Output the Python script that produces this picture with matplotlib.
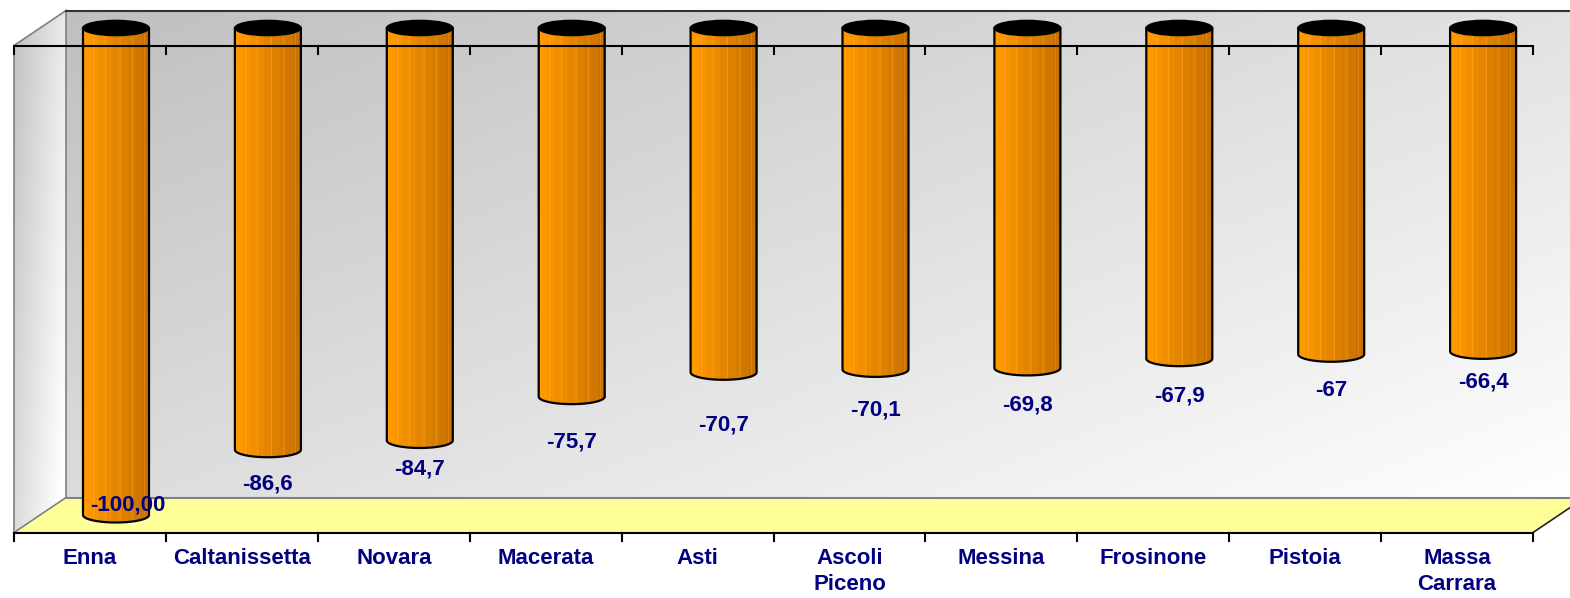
import matplotlib
matplotlib.use("Agg")
import matplotlib.pyplot as plt
from matplotlib.patches import Polygon, Ellipse
import numpy as np

# data
provinces = ["Enna", "Caltanissetta", "Novara", "Macerata", "Asti",
             "Ascoli\nPiceno", "Messina", "Frosinone", "Pistoia", "Massa\nCarrara"]
values = [-100.00, -86.6, -84.7, -75.7, -70.7, -70.1, -69.8, -67.9, -67.0, -66.4]
value_text = ["-100,00", "-86,6", "-84,7", "-75,7", "-70,7",
              "-70,1", "-69,8", "-67,9", "-67", "-66,4"]

# label nudges in pixels (x right, y down), as placed in the original
label_dx = [12, 0, 0, 0, 0, 0, 0, 0, 0, 0]
label_dy = [-44, 0, -5, 11, 19, 7, 3, 3, 2, -3]

# scale: pixels per category and per value unit
W, H = 1570, 598
PX_CAT = 151.9
PX_UNIT = 4.87
X0_PX = 116.0     # pixel x of first category (mid depth)
V0_PX = 28.0      # pixel y (from top) of value 0 (mid depth)
DX = 26.0 / PX_CAT          # half depth, in categories
DV = 17.5 / PX_UNIT         # half depth, in value units
BAR_R = 33.0 / PX_CAT
ELL = 7.5 / PX_UNIT
FLOOR = -100.0

navy = "#000080"
plt.rcParams['font.family'] = ['Liberation Sans', 'DejaVu Sans']

fig = plt.figure(figsize=(W / 100, H / 100), dpi=100)
ax = fig.add_axes([0, 0, 1, 1])
ax.set_xlim((0 - X0_PX) / PX_CAT, (W - X0_PX) / PX_CAT)
ax.set_ylim((V0_PX - H) / PX_UNIT, V0_PX / PX_UNIT)
ax.axis("off")

n = len(values)
xl, xr = -0.5, n - 0.5

# back wall with diagonal gradient
bw = [xl + DX, xr + DX, FLOOR + DV, DV]
u, w = np.meshgrid(np.linspace(0, 1, 300), np.linspace(0, 1, 120))
g = np.clip(0.75 + 0.25 * (0.55 * u + 0.45 * w), 0, 1)
ax.imshow(np.dstack([g, g, g]), extent=bw, origin="upper", aspect="auto", zorder=0)

# side wall
side = Polygon([(xl - DX, -DV), (xl + DX, DV), (xl + DX, FLOOR + DV), (xl - DX, FLOOR - DV)],
               closed=True, facecolor="none", edgecolor="none", transform=ax.transData)
ax.add_patch(side)
u2, w2 = np.meshgrid(np.linspace(0, 1, 40), np.linspace(0, 1, 120))
g2 = np.clip(0.76 + 0.16 * u2 + 0.10 * w2, 0, 1)
im2 = ax.imshow(np.dstack([g2, g2, g2]), extent=[xl - DX, xl + DX, FLOOR - DV, DV],
                origin="upper", aspect="auto", zorder=0)
im2.set_clip_path(side)

# floor
floor = Polygon([(xl - DX, FLOOR - DV), (xr - DX, FLOOR - DV), (xr + DX, FLOOR + DV), (xl + DX, FLOOR + DV)],
                closed=True, facecolor="#ffff99", edgecolor="none", zorder=1)
ax.add_patch(floor)

# frame lines
gray = "#808080"
ax.plot([xl - DX, xl + DX], [-DV, DV], color=gray, lw=1.2, zorder=2)
ax.plot([xl + DX, xl + DX], [DV, FLOOR + DV], color=gray, lw=1.2, zorder=2)
ax.plot([xl - DX, xl - DX], [-DV, FLOOR - DV], color=gray, lw=1.2, zorder=2)
ax.plot([xl - DX, xl + DX], [FLOOR - DV, FLOOR + DV], color=gray, lw=1.2, zorder=2)
ax.plot([xl + DX, xr + DX], [FLOOR + DV, FLOOR + DV], color=gray, lw=1.5, zorder=2)
ax.plot([xl + DX, xr + DX], [DV, DV], color="#333333", lw=1.5, zorder=2)
ax.plot([xr - DX, xr + DX], [FLOOR - DV, FLOOR + DV], color="#222222", lw=1.2, zorder=2)

# front axis lines with ticks
tick = 8.0 / PX_UNIT
for base, z in [(-DV, 6), (FLOOR - DV, 2)]:
    ax.plot([xl - DX, xr - DX], [base, base], color="black", lw=1.5, zorder=z)
    for k in range(n + 1):
        ax.plot([xl - DX + k, xl - DX + k], [base, base - tick], color="black", lw=1.5, zorder=z)

# cylinder shading
ncol = 66
t = np.linspace(0, 1, ncol)
c_left = np.array([1.0, 0.60, 0.0])
c_right = np.array([0.76, 0.43, 0.0])
tb = np.floor(t * 9) / 9
cols = (1 - tb)[:, None] * c_left + tb[:, None] * c_right
cols[:8] = [1.0, 0.60, 0.0]
for p in [10, 22, 36, 48, 60]:
    cols[p] = np.minimum(cols[p] + 0.07, 1)
cyl_img = np.repeat(cols[None, :, :], 2, axis=0)

theta = np.linspace(np.pi, 2 * np.pi, 60)
for i, v in enumerate(values):
    bx = i + BAR_R * np.cos(theta)
    by = v + ELL * np.sin(theta)
    px = np.concatenate([[i - BAR_R], bx, [i + BAR_R]])
    py = np.concatenate([[0], by, [0]])
    body = Polygon(np.column_stack([px, py]), closed=True, facecolor="none",
                   edgecolor="none", transform=ax.transData)
    ax.add_patch(body)
    im = ax.imshow(cyl_img, extent=[i - BAR_R, i + BAR_R, v - ELL, 0],
                   aspect="auto", zorder=3)
    im.set_clip_path(body)
    ax.plot(px, py, color="black", lw=1.6, zorder=4)
    ax.add_patch(Ellipse((i, 0), 2 * BAR_R, 2 * ELL, facecolor="black",
                         edgecolor="black", lw=1.2, zorder=5))

    lv = v - (34 + label_dy[i]) / PX_UNIT
    ax.text(i + label_dx[i] / PX_CAT, lv, value_text[i], color=navy, fontsize=16,
            fontweight="bold", ha="center", va="center", zorder=7)

# category labels
for i, name in enumerate(provinces):
    ax.text(i - DX, FLOOR - DV - 16 / PX_UNIT, name, color=navy, fontsize=16,
            fontweight="bold", ha="center", va="top", linespacing=1.25, zorder=7)

fig.savefig("out.png", dpi=100)
